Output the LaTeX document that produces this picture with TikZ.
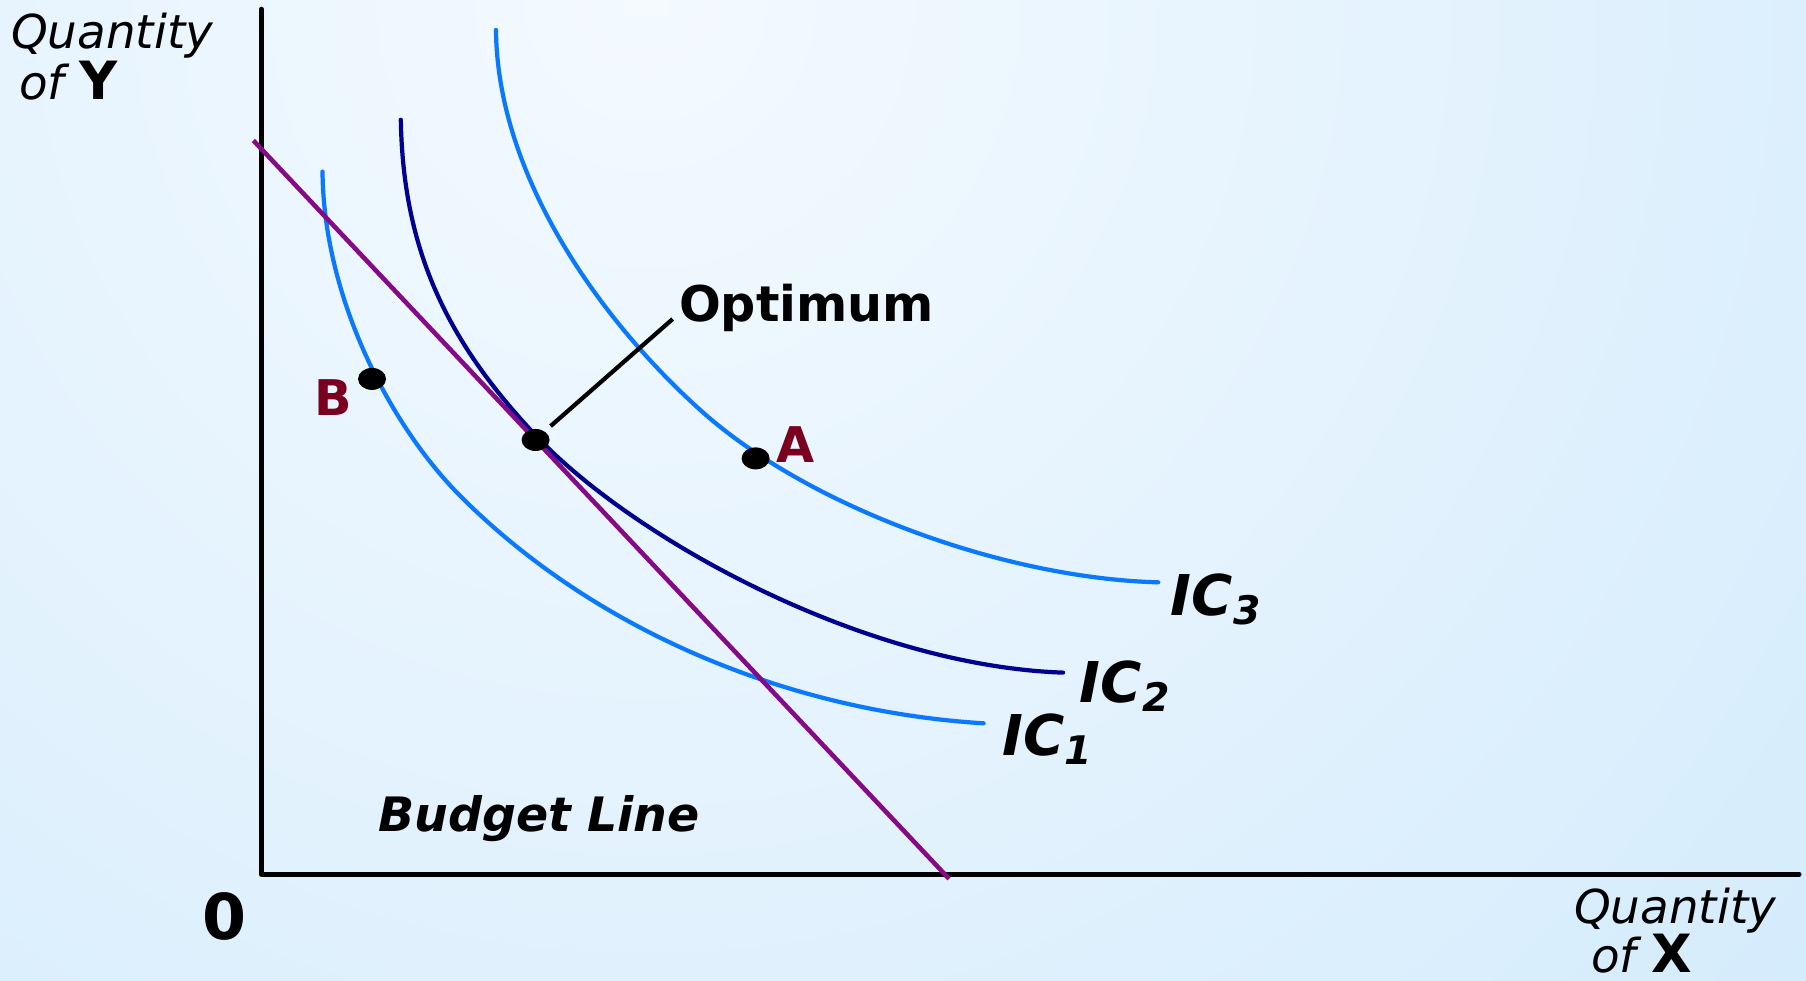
\documentclass[tikz,border=0pt]{standalone}
\usepackage{fontspec}
\setmainfont{DejaVu Sans}
\usepackage{tikz}
\usetikzlibrary{positioning}
\definecolor{bgin}{HTML}{F4FAFF}
\definecolor{bgout}{HTML}{D3EBFC}
\definecolor{icblue}{HTML}{0A78FF}
\definecolor{icnavy}{HTML}{00008F}
\definecolor{budget}{HTML}{850A85}
\definecolor{ptred}{HTML}{7A0020}
\newcommand{\axisletter}[1]{{\fontsize{15}{17}\selectfont\bfseries\upshape #1}}

\begin{document}
\begin{tikzpicture}[x=0.011518cm, y=-0.011518cm,
  icline/.style={line width=1.2pt, line cap=round},
  dot/.style={fill=black},
  ptlabel/.style={font=\fontsize{14}{16}\selectfont\bfseries, text=ptred},
  axislabel/.style={font=\fontsize{13.3}{15}\selectfont\itshape, inner sep=0pt},
  iclabel/.style={font=\fontsize{16}{18}\selectfont\bfseries\itshape, inner sep=0pt}]
% background
\useasboundingbox (0,0) rectangle (1568,851);
\begin{scope}
\clip (0,0) rectangle (1568,851);
\fill[bgout] (0,0) rectangle (1568,851);
\shade[inner color=bgin, outer color=bgout] (560,0) circle (1400);
\end{scope}
% axes
\draw[line width=1.4pt, line join=round, line cap=round] (227,8) -- (227,759) -- (1562,759);
\node[font=\fontsize{18}{20}\selectfont\bfseries] (zero) at (195,796) {0};
\node[axislabel, anchor=west] (qy) at (9,31) {Quantity};
\node[axislabel, anchor=west] (ofy) at (16,70) {of \axisletter{Y}};
\node[axislabel, anchor=west] (qx) at (1366,791) {Quantity};
\node[axislabel, anchor=west] (ofx) at (1381,828) {of \axisletter{X}};
% indifference curves
\draw[icline, icblue] (280,149) .. controls (281,260) and (340,371) .. (400,431)
  .. controls (520,551) and (690,618) .. (854,628);
\draw[icline, icnavy] (348,104) .. controls (350,220) and (390,298) .. (465,378)
  .. controls (550,468) and (750,578) .. (923,584);
\draw[icline, icblue] (430.6,26) .. controls (432,160) and (530,286) .. (608,356)
  .. controls (700,439) and (870,502) .. (1005.6,505.6);
% budget line
\draw[budget, line width=1.3pt] (220,122) -- (824,763);
\node[font=\fontsize{13.5}{15}\selectfont\bfseries\itshape] (bl) at (468,711) {Budget Line};
% points
\fill[dot] (323,329) ellipse (0.14cm and 0.11cm);
\fill[dot] (465,382) ellipse (0.14cm and 0.11cm);
\fill[dot] (656,398) ellipse (0.14cm and 0.11cm);
\node[ptlabel] (ptb) at (289,345) {B};
\node[ptlabel] (pta) at (691,386) {A};
\coordinate (optfoot) at (478,370);
\node[font=\fontsize{14}{16}\selectfont\bfseries, anchor=west, inner sep=0pt] (opt) at (589,267) {Optimum};
\coordinate (opthead) at (584,277);
\draw[line width=1.2pt] (optfoot) -- (opthead);
% labels
\node[iclabel, anchor=base west] (ic3) at (1016,534) {IC\textsubscript{3}};
\node[iclabel, anchor=base west] (ic2) at (937,610) {IC\textsubscript{2}};
\node[iclabel, anchor=base west] (ic1) at (870,656) {IC\textsubscript{1}};
\end{tikzpicture}
\end{document}
